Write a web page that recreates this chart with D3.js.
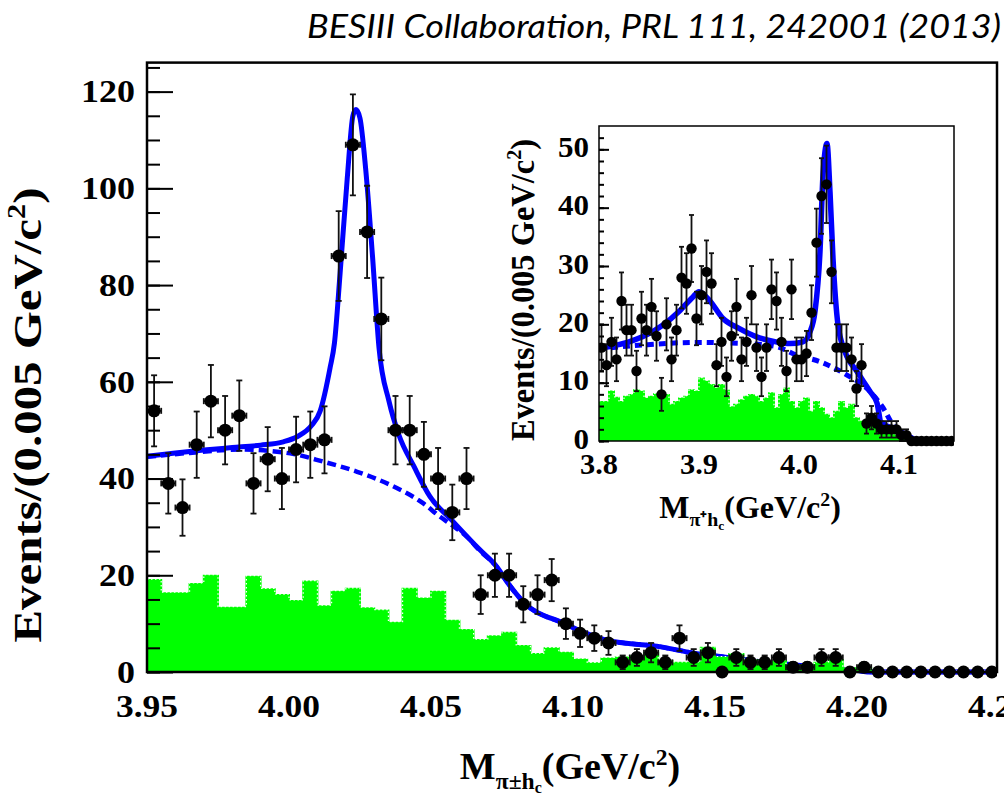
<!DOCTYPE html>
<html>
<head>
<meta charset="utf-8">
<script src="https://cdn.jsdelivr.net/npm/d3@7"></script>
<style>
  body { margin: 0; background: #fff; }
  text { font-family: "Liberation Serif", "Times New Roman", serif; font-weight: bold; fill: #000; }
</style>
</head>
<body>
<script>
// bins of 0.005 GeV/c^2
const binWidth = 0.005;

// main panel: pi+- h_c mass, 3.95 - 4.25
const mainStart = 3.95;
const mainCounts = [54, 39, 34, 47, 56, 50, 53, 39, 44, 40, 46, 47, 48, 86, 109, 91, 73,
  50, 50, 45, 40, 33, 40, 16, 20, 20, 14, 16, 19, 10, 8, 7, 6, 2, 3, 4, 2, 7, 3, 4,
  0, 3, 2, 2, 3, 1, 1, 3, 3, 0, 1, 0, 0, 0, 0, 0, 0, 0, 0, 0];
const mainSideband = [19.0, 16.3, 16.3, 18.2, 19.9, 13.3, 13.3, 19.7, 17.1, 15.9, 14.7, 18.7,
  13.6, 16.6, 17.2, 13.2, 12.7, 10.2, 17.2, 15.2, 16.6, 10.6, 8.7, 6.6, 7.4, 8.1, 5.4, 3.7,
  4.9, 4.0, 2.6, 1.8, 2.8, 3.0, 3.2, 4.0, 2.3, 1.9, 1.9, 5.0, 3.0, 3.7, 2.5, 2.1, 2.3, 1.2,
  1.4, 1.9, 2.5, 0.8, 0.9, 0, 0, 0, 0, 0, 0, 0, 0, 0];
const mainFitX = [3.95, 3.96, 3.97, 3.98, 3.99, 3.998, 4.003, 4.008, 4.011, 4.0145, 4.016,
  4.018, 4.0205, 4.0225, 4.0236, 4.025, 4.027, 4.0294, 4.0317, 4.0352, 4.0387, 4.044,
  4.0496, 4.0573, 4.0673, 4.0731, 4.0772, 4.0825, 4.0966, 4.1119, 4.131, 4.1425, 4.152,
  4.168, 4.185, 4.2, 4.205, 4.25];
const mainFitY = [44.6, 45.3, 45.9, 46.4, 46.9, 47.6, 48.7, 51, 54, 63, 68, 82.5, 102, 115,
  116.3, 114.5, 104, 86, 67, 56, 49, 42.5, 36.3, 31.4, 25.2, 21.8, 18.3, 14.5, 10.1, 6.6,
  5.2, 3.9, 3.2, 2.0, 1.1, 0.3, 0, 0];
const mainBgX = [3.95, 3.965, 3.9827, 4.0004, 4.012, 4.024, 4.0356, 4.0472, 4.0532, 4.0573,
  4.0626, 4.0673, 4.0731, 4.0772, 4.0825, 4.0966, 4.1119, 4.131, 4.1425, 4.152, 4.168,
  4.185, 4.2, 4.205, 4.25];
const mainBgY = [44.5, 45.3, 46.0, 45.2, 43.5, 41.4, 38.7, 34.9, 32.1, 30.4, 28.0, 25.0,
  21.8, 18.3, 14.5, 10.1, 6.6, 5.2, 3.9, 3.2, 2.0, 1.1, 0.3, 0, 0];
const mainXTicks = [3.95, 4.00, 4.05, 4.10, 4.15, 4.20, 4.25];
const mainYTicks = [0, 20, 40, 60, 80, 100, 120];

// inset: pi+ h_c mass, 3.80 - 4.155
const insetStart = 3.8;
const insetCounts = [16, 13, 17, 14, 24, 19, 19, 12, 21, 19, 23, 18, 8, 20, 14, 19, 28, 27,
  33, 21, 25, 29, 27, 13, 17, 11, 18, 23, 14, 17, 25, 16, 11, 16, 26, 24, 17, 12, 26, 14,
  14, 15, 22, 34, 42, 44, 29, 16, 16, 16, 14, 9, 13, 3, 4, 3, 2, 2, 2, 2, 1, 1,
  0, 0, 0, 0, 0, 0, 0, 0, 0];
const insetSideband = [6.7, 6.7, 8.5, 7.4, 6.7, 7.6, 7.9, 8.7, 8.5, 7.3, 7.6, 8.0, 8.5, 7.9,
  6.2, 6.7, 7.3, 7.6, 8.7, 8.5, 10.7, 10.2, 9.6, 9.0, 9.6, 8.6, 5.8, 6.2, 7.0, 7.6, 7.9,
  7.6, 6.7, 7.3, 8.2, 5.6, 7.9, 9.0, 6.7, 5.6, 6.7, 7.3, 5.0, 6.7, 5.6, 4.5, 3.9, 5.0, 6.7,
  5.6, 6.2, 3.9, 3.3, 3.0, 2.6, 2.3, 1.8, 1.5, 1.2, 0.9, 0.6, 0.4,
  0, 0, 0, 0, 0, 0, 0, 0, 0];
const insetFitX = [3.8, 3.83, 3.844, 3.864, 3.88, 3.894, 3.9, 3.91, 3.924, 3.94, 3.957,
  3.977, 3.991, 4.004, 4.011, 4.016, 4.021, 4.024, 4.028, 4.031, 4.034, 4.039, 4.046,
  4.058, 4.071, 4.078, 4.082, 4.098, 4.111, 4.118, 4.155];
const insetFitY = [15.9, 17.0, 17.9, 19.9, 22.2, 24.7, 25.6, 24.2, 21.0, 19.3, 17.9, 17.0,
  16.7, 17.0, 18.7, 22.2, 32.5, 45.6, 51.0, 42.7, 31.3, 19.9, 15.3, 11.9, 8.5, 6.5, 3.2,
  1.9, 0.7, 0.1, 0];
const insetBgX = [3.8, 3.847, 3.897, 3.947, 3.977, 3.998, 4.021, 4.048, 4.068, 4.084,
  4.095, 4.105, 4.118, 4.155];
const insetBgY = [15.8, 16.5, 16.9, 16.7, 16.2, 14.7, 13.6, 11.3, 9.0, 5.7, 2.5, 1.2, 0.1, 0];
const insetXTicks = [3.8, 3.9, 4.0, 4.1];
const insetYTicks = [0, 10, 20, 30, 40, 50];

const svg = d3.select('body')
  .append('svg')
  .attr('width', 1004)
  .attr('height', 795);

// title
svg.append('text')
  .attr('x', 307)
  .attr('y', 38)
  .attr('textLength', 694)
  .attr('lengthAdjust', 'spacingAndGlyphs')
  .style('font-family', 'Lato, "Open Sans", sans-serif')
  .style('font-style', 'italic')
  .style('font-weight', 'normal')
  .style('font-size', '32px')
  .text('BESIII Collaboration, PRL 111, 242001 (2013)');

// the labels in the figure are wider than Times, so stretch them a bit
const labelWidth = (s, digit) => s.split('').reduce((w, c) => w + (c === '.' ? digit * 0.45 : digit), 0);

function drawPanel(p) {
  const g = svg.append('g');
  const x = p.x, y = p.y;
  const [x0, x1] = x.range();
  const [yb, yt] = y.range();

  g.append('rect')
    .attr('x', x0).attr('y', yt)
    .attr('width', p.frameRight - x0).attr('height', yb - yt)
    .attr('fill', '#fff');

  const clipId = 'clip' + p.id;
  g.append('clipPath').attr('id', clipId)
    .append('rect')
    .attr('x', x0).attr('y', yt)
    .attr('width', p.frameRight - x0).attr('height', yb - yt + 8);

  const inner = g.append('g').attr('clip-path', `url(#${clipId})`);

  const fitLine = d3.line()
    .x(d => x(d[0]))
    .y(d => y(d[1]))
    .curve(d3.curveMonotoneX);

  // sideband histogram, drawn as steps
  const steps = p.sideband.map((v, i) => [p.start + i * binWidth, v]);
  steps.push([p.start + p.sideband.length * binWidth, p.sideband[p.sideband.length - 1]]);

  const drawHist = () => {
    inner.append('path')
      .datum(steps)
      .attr('d', d3.area().x(d => x(d[0])).y0(yb).y1(d => y(d[1])).curve(d3.curveStepAfter))
      .attr('fill', '#00ff00');
    inner.append('path')
      .datum(steps)
      .attr('d', d3.line().x(d => x(d[0])).y(d => y(d[1])).curve(d3.curveStepAfter))
      .attr('fill', 'none')
      .attr('stroke', '#00ff00')
      .attr('stroke-width', 2);
    inner.append('path')
      .datum(steps)
      .attr('d', d3.line().x(d => x(d[0])).y(d => y(d[1]) - 1).curve(d3.curveStepAfter))
      .attr('fill', 'none')
      .attr('stroke', '#fff')
      .attr('stroke-width', 1.2)
      .attr('stroke-dasharray', '1.5,2.5');
  };

  const drawCurves = () => {
    inner.append('path')
      .datum(d3.zip(p.bgX, p.bgY))
      .attr('d', fitLine)
      .attr('fill', 'none')
      .attr('stroke', '#0000ff')
      .attr('stroke-width', p.lw)
      .attr('stroke-dasharray', p.dash);
    inner.append('path')
      .datum(d3.zip(p.fitX, p.fitY))
      .attr('d', fitLine)
      .attr('fill', 'none')
      .attr('stroke', '#0000ff')
      .attr('stroke-width', p.lw + 0.5);
  };

  if (p.histOnTop) { drawCurves(); drawHist(); } else { drawHist(); drawCurves(); }

  // data points with error bars
  const pts = p.counts.map((n, i) => ({ xc: p.start + (i + 0.5) * binWidth, n }));
  const eb = inner.append('g')
    .attr('stroke', '#111')
    .attr('stroke-width', 1.8);
  const hw = (x(binWidth) - x(0)) / 2;
  pts.filter(d => d.n > 0).forEach(d => {
    const cx = x(d.xc);
    const e = Math.sqrt(d.n);
    const top = y(d.n + e), bot = y(d.n - e), cy = y(d.n);
    eb.append('line').attr('x1', cx).attr('x2', cx).attr('y1', top).attr('y2', bot);
    eb.append('line').attr('x1', cx - p.cap).attr('x2', cx + p.cap).attr('y1', top).attr('y2', top);
    eb.append('line').attr('x1', cx - p.cap).attr('x2', cx + p.cap).attr('y1', bot).attr('y2', bot);
    eb.append('line').attr('x1', cx - hw).attr('x2', cx + hw).attr('y1', cy).attr('y2', cy);
    eb.append('line').attr('x1', cx - hw).attr('x2', cx - hw).attr('y1', cy - p.cap).attr('y2', cy + p.cap);
    eb.append('line').attr('x1', cx + hw).attr('x2', cx + hw).attr('y1', cy - p.cap).attr('y2', cy + p.cap);
  });
  inner.selectAll('circle.pt')
    .data(pts)
    .enter()
    .append('circle')
    .attr('class', 'pt')
    .attr('cx', d => x(d.xc))
    .attr('cy', d => y(d.n))
    .attr('r', p.r)
    .attr('fill', '#000');

  // y ticks, pointing inside
  g.append('g')
    .attr('transform', `translate(${x0},0)`)
    .call(d3.axisLeft(y).tickValues(d3.range(0, y.domain()[1], p.minorStep)).tickSize(-p.minorLen).tickFormat(''))
    .call(a => a.select('.domain').remove())
    .call(a => a.selectAll('line').attr('stroke', '#000').attr('stroke-width', 2));
  g.append('g')
    .attr('transform', `translate(${x0},0)`)
    .call(d3.axisLeft(y).tickValues(p.yTicks).tickSize(-p.majorLen).tickFormat(''))
    .call(a => a.select('.domain').remove())
    .call(a => a.selectAll('line').attr('stroke', '#000').attr('stroke-width', 2));

  // frame
  g.append('rect')
    .attr('x', x0).attr('y', yt)
    .attr('width', p.frameRight - x0).attr('height', yb - yt)
    .attr('fill', 'none')
    .attr('stroke', '#000')
    .attr('stroke-width', p.frameW);

  // tick labels
  g.selectAll('text.yl')
    .data(p.yTicks)
    .enter()
    .append('text')
    .attr('x', x0 - p.yPad)
    .attr('y', d => y(d) + p.fs * p.yShift)
    .attr('text-anchor', 'end')
    .attr('textLength', d => labelWidth(String(d), p.digit))
    .attr('lengthAdjust', 'spacingAndGlyphs')
    .style('font-size', p.fs + 'px')
    .text(d => d);
  g.selectAll('text.xl')
    .data(p.xTicks)
    .enter()
    .append('text')
    .attr('x', d => x(d))
    .attr('y', p.xLabelY)
    .attr('text-anchor', 'middle')
    .attr('textLength', d => labelWidth(d.toFixed(p.xDec), p.digit))
    .attr('lengthAdjust', 'spacingAndGlyphs')
    .style('font-size', p.fs + 'px')
    .text(d => d.toFixed(p.xDec));

  // axis titles
  const yt1 = g.append('text')
    .attr('transform', `translate(${p.yTitle[0]},${p.yTitle[1]}) rotate(-90)`)
    .attr('text-anchor', 'middle')
    .attr('textLength', p.yTitle[3])
    .attr('lengthAdjust', 'spacingAndGlyphs')
    .style('font-size', p.yTitle[2] + 'px');
  yt1.append('tspan').text('Events/(0.005 GeV/c');
  yt1.append('tspan').attr('dy', -p.yTitle[2] * 0.38).style('font-size', (p.yTitle[2] * 0.62) + 'px').text('2');
  yt1.append('tspan').attr('dy', p.yTitle[2] * 0.38).text(')');

  const s = p.xTitle[2];
  const xt = g.append('text')
    .attr('x', p.xTitle[0])
    .attr('y', p.xTitle[1])
    .attr('text-anchor', 'middle')
    .style('font-size', s + 'px');
  xt.append('tspan').text('M');
  xt.append('tspan').attr('dy', s * 0.25).style('font-size', (s * 0.62) + 'px').text(p.sub);
  xt.append('tspan').attr('dy', s * 0.12).style('font-size', (s * 0.42) + 'px').text('c');
  xt.append('tspan').attr('dy', -s * 0.37).style('font-size', s + 'px').text('(GeV/c');
  xt.append('tspan').attr('dy', -s * 0.38).style('font-size', (s * 0.62) + 'px').text('2');
  xt.append('tspan').attr('dy', s * 0.38).style('font-size', s + 'px').text(')');
}

// main panel
drawPanel({
  id: 'main',
  x: d3.scaleLinear().domain([3.95, 4.25]).range([147, 999]),
  y: d3.scaleLinear().domain([0, 126]).range([672, 62.6]),
  frameRight: 997,
  start: mainStart,
  counts: mainCounts,
  sideband: mainSideband,
  fitX: mainFitX, fitY: mainFitY,
  bgX: mainBgX, bgY: mainBgY,
  histOnTop: true,
  lw: 4.5, dash: '9,5',
  r: 6.5, cap: 3,
  minorStep: 5, minorLen: 13, majorLen: 26,
  yTicks: mainYTicks, xTicks: mainXTicks, xDec: 2,
  fs: 32, digit: 18, yShift: 0.34, yPad: 12, xLabelY: 717, frameW: 2.5,
  yTitle: [41, 415, 41, 455],
  xTitle: [570, 779, 38],
  sub: 'π±h'
});

// inset panel
drawPanel({
  id: 'inset',
  x: d3.scaleLinear().domain([3.8, 4.155]).range([599, 954]),
  y: d3.scaleLinear().domain([0, 54]).range([441, 126]),
  frameRight: 954,
  start: insetStart,
  counts: insetCounts,
  sideband: insetSideband,
  fitX: insetFitX, fitY: insetFitY,
  bgX: insetBgX, bgY: insetBgY,
  histOnTop: false,
  lw: 5, dash: '7,5',
  r: 5.2, cap: 2.5,
  minorStep: 2, minorLen: 5, majorLen: 10,
  yTicks: insetYTicks, xTicks: insetXTicks, xDec: 1,
  fs: 29, digit: 15.5, yShift: 0.26, yPad: 10, xLabelY: 474, frameW: 1.5,
  yTitle: [534, 290, 33, 302],
  xTitle: [750, 518, 32],
  sub: 'π⁺h'
});
</script>
</body>
</html>
